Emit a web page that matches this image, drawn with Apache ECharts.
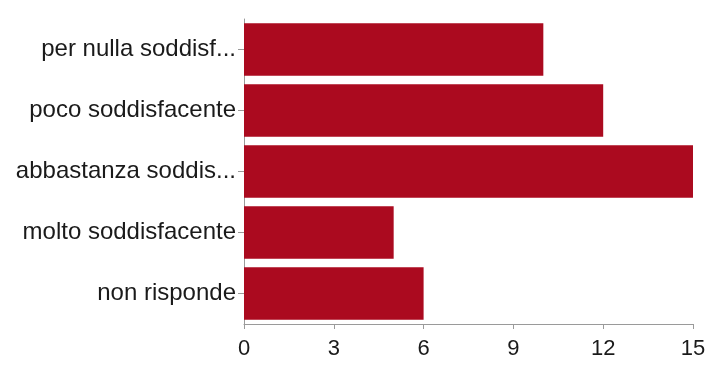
<!DOCTYPE html>
<html>
<head>
<meta charset="utf-8">
<script src="https://cdn.jsdelivr.net/npm/echarts@6/dist/echarts.min.js"></script>
<style>
  html, body { margin: 0; padding: 0; background: #fff; }
  #chart { width: 709px; height: 366px; }
</style>
</head>
<body>
<div id="chart"></div>
<script>
// Satisfaction answers, top to bottom
const categories = [
  'per nulla soddisf...',
  'poco soddisfacente',
  'abbastanza soddis...',
  'molto soddisfacente',
  'non risponde'
];
const counts = [10, 12, 15, 5, 6];
const tickValues = [0, 3, 6, 9, 12, 15];

const chart = echarts.init(document.getElementById('chart'));
chart.setOption({
  animation: false,
  textStyle: { fontFamily: 'Liberation Sans, Arial, sans-serif' },
  grid: { left: 244, right: 16, top: 19, bottom: 42 },
  xAxis: {
    type: 'value',
    min: tickValues[0],
    max: tickValues[tickValues.length - 1],
    interval: 3,
    axisLine: { show: true, lineStyle: { color: '#9a9a9a', width: 1 } },
    axisTick: { show: true, length: 5, lineStyle: { color: '#9a9a9a' } },
    splitLine: { show: false },
    axisLabel: { color: '#1a1a1a', fontSize: 22, margin: 14 }
  },
  yAxis: {
    type: 'category',
    data: categories,
    inverse: true,
    axisLine: { show: true, lineStyle: { color: '#9a9a9a', width: 1 } },
    axisTick: { show: true, length: 6, alignWithLabel: true, lineStyle: { color: '#9a9a9a' } },
    axisLabel: { color: '#1a1a1a', fontSize: 24, margin: 8 }
  },
  series: [{
    type: 'bar',
    data: counts,
    barCategoryGap: '14%',
    itemStyle: { color: '#ab0a1f' }
  }]
});
</script>
</body>
</html>
